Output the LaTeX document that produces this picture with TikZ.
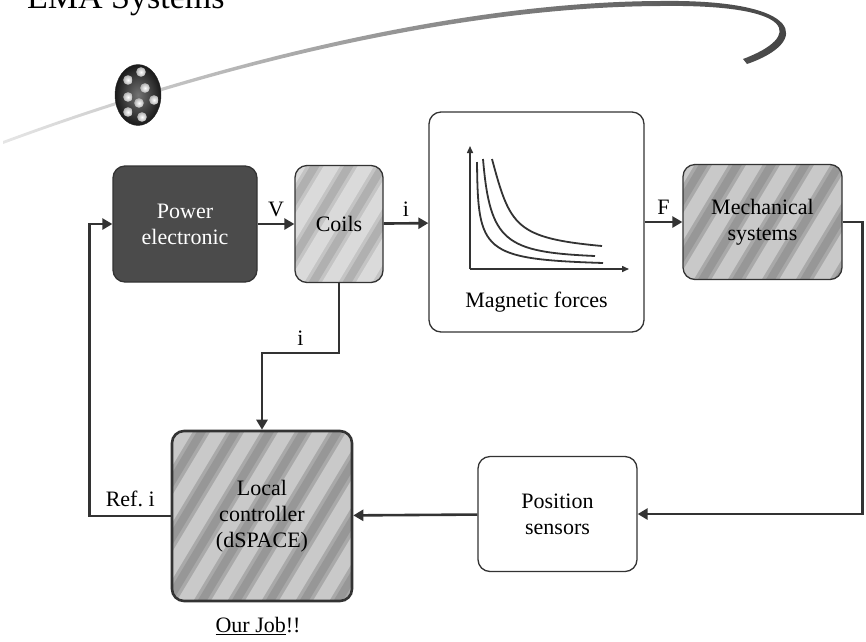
\documentclass[tikz,border=0pt]{standalone}
\usepackage{fontspec}
\setmainfont{Liberation Serif}
\usetikzlibrary{arrows.meta, positioning, calc, shapes.geometric}
\definecolor{InkGray}{HTML}{333333}
\definecolor{PanelDark}{HTML}{4B4B4B}
\definecolor{PanelMid}{HTML}{A9A9A9}
\definecolor{PanelLight}{HTML}{C4C4C4}
\tikzset{
  boxtext/.style={font=\fontsize{22}{26}\selectfont, align=center},
  plainbox/.style={draw=InkGray, line width=1.3pt, rounded corners=12pt, fill=white, boxtext},
  darkbox/.style={plainbox, fill=PanelDark, text=white},
  stripebox/.style={plainbox, fill=#1, path picture={
      \foreach \k in {-9,...,9}{
        \draw[white, opacity=0.38, line width=14pt]
          ([xshift=\k*34pt]path picture bounding box.south) ++(-80pt,-5pt) -- ++(150pt,250pt);
        \draw[black, opacity=0.10, line width=8pt]
          ([xshift=\k*34pt+17pt]path picture bounding box.south) ++(-80pt,-5pt) -- ++(150pt,250pt);
      }}},
  lbl/.style={font=\fontsize{22}{26}\selectfont, inner sep=1pt},
  flow/.style={-{Triangle[length=10pt,width=11pt]}, line width=2.6pt, draw=InkGray},
  axis/.style={-{Triangle[length=7pt,width=6pt]}, line width=1.5pt, draw=InkGray},
  curve/.style={line width=1.8pt, draw=InkGray}
}

\begin{document}
\begin{tikzpicture}[x=1pt, y=-1pt]
\useasboundingbox (0,0) rectangle (866,641);
\clip (0,0) rectangle (866,641);

% heading and swoosh
\node[anchor=base west, font=\fontsize{34}{40}\selectfont, inner sep=0pt] (title) at (27,8) {EMA Systems};
\shade[left color=gray!20, right color=black!75]
  (3,141) .. controls (200,68) and (450,2) .. (660,1)
  .. controls (806,-1) and (811,42) .. (747,64) -- (743,59)
  .. controls (802,37) and (800,4) .. (660,6)
  .. controls (450,7) and (200,71) .. (3,144) -- cycle;
\node[ellipse, minimum width=46pt, minimum height=61pt, inner sep=0pt, draw=black!85,
  inner color=black!55, outer color=black!90] (lens) at (138,95) {};
\foreach \dx/\dy in {141/72, 128/80, 145/88, 128/97, 139/103, 154/100, 128/112, 142/117}
  \shade[inner color=white, outer color=gray!60] (\dx,\dy) circle (4.8pt);

% blocks
\node[darkbox, minimum width=144pt, minimum height=116pt] (pwr) at (185,224) {Power\\electronic};
\node[stripebox=PanelLight, minimum width=88pt, minimum height=117pt] (coils) at (339,224) {Coils};
\node[plainbox, minimum width=215pt, minimum height=220pt] (mag) at (536.5,222) {};
\node[stripebox=PanelMid, minimum width=159pt, minimum height=115pt] (mech) at (762.5,222) {Mechanical\\systems};
\node[plainbox, minimum width=159pt, minimum height=115pt] (sens) at (557.5,514) {Position\\sensors};
\node[stripebox=PanelMid, line width=2.6pt, minimum width=180pt, minimum height=170pt] (ctrl) at (262,516) {Local\\controller\\(dSPACE)};

% force curves
\draw[axis] (470,269) -- (470,146);
\draw[axis] (470,269) -- (629,269);
\draw[curve] (477,162) .. controls (478,252) and (482,259) .. (603,263);
\draw[curve] (483,159) .. controls (490,242) and (505,252) .. (595,256);
\draw[curve] (492,159) .. controls (510,226) and (515,238) .. (602,246);
\node[lbl] (magtxt) at (536.5,302) {Magnetic forces};

% signal flow
\draw[flow] (pwr) -- node[lbl, midway, above=5pt] (v) {V} (coils);
\draw[flow] (coils) -- node[lbl, midway, above=5pt] (i1) {i} (mag);
\draw[flow] (mag) -- node[lbl, midway, above=5pt] (f) {F} (mech);
\draw[flow] (mech.east) -- ++(20,0) |- (sens.east);
\draw[flow] (sens) -- (ctrl);
\draw[flow] (coils.south) -- ++(0,70) -| node[lbl, pos=0.25, above=5pt] (i2) {i} (ctrl.north);
\draw[flow] (ctrl.west) -- node[lbl, midway, above=7pt] (ref) {Ref.\ i} ++(-81,0) |- (pwr.west);

\node[lbl] (job) at (258,626) {\underline{Our Job}!!};
\end{tikzpicture}
\end{document}
